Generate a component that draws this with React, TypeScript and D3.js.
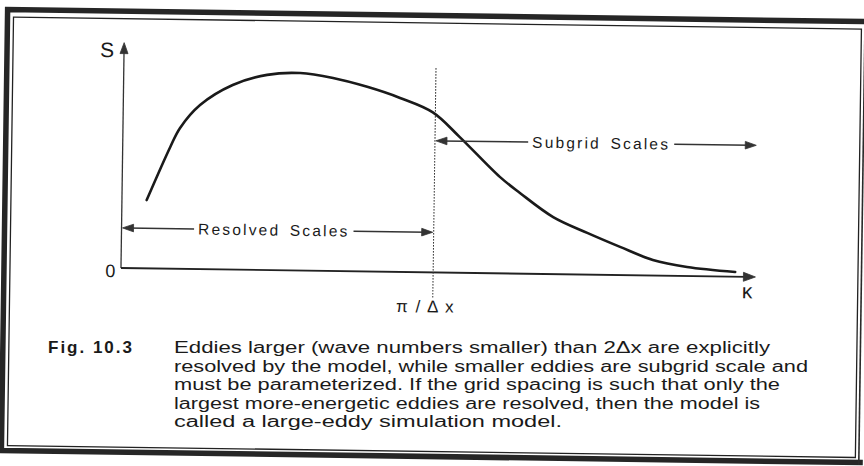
import React, { useRef, useEffect } from 'react';
import * as d3 from 'd3';

// energy spectrum S(κ) (κ and S in axis fractions)
const kappa = [0.039, 0.075, 0.090, 0.121, 0.172, 0.226, 0.278, 0.330, 0.384, 0.436,
    0.488, 0.531, 0.595, 0.627, 0.680, 0.734, 0.786, 0.838, 0.892, 0.968];
const spectrum = [0.303, 0.540, 0.625, 0.728, 0.819, 0.866, 0.876, 0.856, 0.819, 0.772,
    0.710, 0.602, 0.428, 0.358, 0.253, 0.185, 0.125, 0.069, 0.040, 0.021];

// grid cutoff wave number π/Δx
const cutoff = 0.492;

// the two scale bands
const bandLabels = ['Resolved Scales', 'Subgrid Scales'];
const bandStarts = [0, cutoff];
const bandEnds = [cutoff, 1];
const bandLevels = [0.178, 0.584];
const bandCentres = [0.24, 0.754];

const axisTitles = ['S', 'κ'];
const originLabel = '0';
const cutoffLabel = 'π / Δ x';

const figLabel = 'Fig. 10.3';
const captionLines = [
    'Eddies larger (wave numbers smaller) than 2\u0394x are explicitly',
    'resolved by the model, while smaller eddies are subgrid scale and',
    'must be parameterized.  If the grid spacing is such that only the',
    'largest more-energetic eddies are resolved, then the model is',
    'called a large-eddy simulation model.',
];
// fitted widths of the caption lines (px)
const captionWidths = [596, 634, 606, 586, 388];

const W = 864;
const H = 466;
const ink = '#1a1a1a';
const sans = '"Liberation Sans", Arial, Helvetica, sans-serif';

const App: React.FC = () => {
    const svgRef = useRef<SVGSVGElement>(null);

    useEffect(() => {
        const svg = d3.select(svgRef.current);
        svg.selectAll('*').remove();

        svg.append('rect').attr('width', W).attr('height', H).attr('fill', '#ffffff');

        // the scanned page is turned a little clockwise
        const root = svg.append('g').attr('transform', 'rotate(0.81, 432, 233)');

        const xScale = d3.scaleLinear().domain([0, 1]).range([121.5, 756]);
        const yScale = d3.scaleLinear().domain([0, 1]).range([272.4, 47]);

        // frame: thick outer rule + thin inner rule
        const frame = root.append('g').attr('fill', 'none');
        frame.append('path')
            .attr('d', 'M866,15.5 L4.5,15.5 L4.5,456.5 L866,456.5')
            .attr('stroke', '#262626').attr('stroke-width', 5.5);
        frame.append('line')
            .attr('x1', 862).attr('x2', 862).attr('y1', 14).attr('y2', 459)
            .attr('stroke', '#2a2a2a').attr('stroke-width', 1.6);
        frame.append('rect')
            .attr('x', 10.5).attr('y', 23).attr('width', 848).attr('height', 428.5)
            .attr('stroke', '#222').attr('stroke-width', 1.3);

        const arrowHead = (x: number, y: number, dir: 'left' | 'right' | 'up', len = 11, half = 4) => {
            let pts: [number, number][];
            if (dir === 'right') pts = [[x, y], [x - len, y - half], [x - len, y + half]];
            else if (dir === 'left') pts = [[x, y], [x + len, y - half], [x + len, y + half]];
            else pts = [[x, y], [x - half, y + len], [x + half, y + len]];
            root.append('path')
                .attr('d', d3.line()(pts) + 'Z')
                .attr('fill', '#333')
                .attr('stroke', '#333')
                .attr('stroke-width', 0.8)
                .attr('stroke-linejoin', 'round');
        };

        // axes
        root.append('line')
            .attr('x1', xScale(0)).attr('x2', xScale(0))
            .attr('y1', yScale(0)).attr('y2', yScale(1) + 8)
            .attr('stroke', '#333').attr('stroke-width', 1.3);
        arrowHead(xScale(0), yScale(1), 'up', 11, 4);

        root.append('line')
            .attr('x1', xScale(0)).attr('x2', xScale(1) - 8)
            .attr('y1', yScale(0)).attr('y2', yScale(0))
            .attr('stroke', '#222').attr('stroke-width', 1.8);
        arrowHead(xScale(1), yScale(0), 'right', 12, 4.5);

        // cutoff line
        root.append('line')
            .attr('x1', xScale(cutoff)).attr('x2', xScale(cutoff))
            .attr('y1', 68).attr('y2', yScale(0) + 26)
            .attr('stroke', '#333').attr('stroke-width', 1)
            .attr('stroke-dasharray', '1.6,1.4');

        // spectrum curve
        const line = d3.line<number>()
            .x((_, i) => xScale(kappa[i]))
            .y(d => yScale(d))
            .curve(d3.curveCatmullRom.alpha(0.5));
        root.append('path')
            .datum(spectrum)
            .attr('fill', 'none')
            .attr('stroke', ink)
            .attr('stroke-width', 2.6)
            .attr('stroke-linecap', 'round')
            .attr('d', line);

        // scale bands
        bandLabels.forEach((label, i) => {
            const y = yScale(bandLevels[i]);
            const x0 = xScale(bandStarts[i]);
            const x1 = xScale(bandEnds[i]);
            const cx = xScale(bandCentres[i]);
            const t = root.append('text')
                .attr('x', cx)
                .attr('y', y + 5.5)
                .attr('text-anchor', 'middle')
                .attr('fill', ink)
                .style('font-family', sans)
                .style('font-size', '15.5px')
                .style('letter-spacing', '2.2px')
                .style('word-spacing', '3px')
                .text(label);
            const bb = (t.node() as SVGTextElement).getBBox();
            const gap = 4;
            root.append('line')
                .attr('x1', x0 + 6).attr('x2', bb.x - gap)
                .attr('y1', y).attr('y2', y)
                .attr('stroke', '#333').attr('stroke-width', 1.5);
            root.append('line')
                .attr('x1', bb.x + bb.width + gap).attr('x2', x1 - 6)
                .attr('y1', y).attr('y2', y)
                .attr('stroke', '#333').attr('stroke-width', 1.5);
            arrowHead(x0 + 1, y, 'left', 11, 3.8);
            arrowHead(x1 - 1, y, 'right', 11, 3.8);
        });

        // axis labels
        root.append('text')
            .attr('x', xScale(0) - 24).attr('y', yScale(1) + 14.6)
            .attr('fill', ink)
            .style('font-family', sans).style('font-size', '21px')
            .text(axisTitles[0]);
        root.append('text')
            .attr('x', xScale(1) - 8).attr('y', yScale(0) + 21.5)
            .attr('text-anchor', 'middle')
            .attr('fill', ink)
            .style('font-family', sans).style('font-size', '21px')
            .text(axisTitles[1]);
        root.append('text')
            .attr('x', xScale(0) - 5.5).attr('y', yScale(0) + 9.2)
            .attr('text-anchor', 'end')
            .attr('fill', ink)
            .style('font-family', sans).style('font-size', '18px')
            .text(originLabel);
        root.append('text')
            .attr('x', xScale(cutoff) - 7).attr('y', yScale(0) + 40)
            .attr('text-anchor', 'middle')
            .attr('fill', ink)
            .style('font-family', sans).style('font-size', '17px')
            .style('letter-spacing', '1.5px')
            .text(cutoffLabel);

        // caption (kept level so the lines stay apart)
        const cap = svg.append('g');
        const capTop = 353;
        const capStep = 18.5;
        cap.append('text')
            .attr('x', 48).attr('y', capTop)
            .attr('fill', ink)
            .attr('textLength', 84)
            .attr('lengthAdjust', 'spacing')
            .style('font-family', sans).style('font-size', '17px').style('font-weight', 'bold')
            .text(figLabel);
        captionLines.forEach((l, i) => {
            cap.append('text')
                .attr('x', 174).attr('y', capTop + i * capStep)
                .attr('fill', ink)
                .attr('textLength', captionWidths[i])
                .attr('lengthAdjust', 'spacingAndGlyphs')
                .style('font-family', sans).style('font-size', '16px')
                .text(l);
        });
    }, []);

    return (
        <svg
            ref={svgRef}
            width={W}
            height={H}
            style={{ position: 'absolute', left: 0, top: 0, display: 'block' }}
        />
    );
};

export default App;
